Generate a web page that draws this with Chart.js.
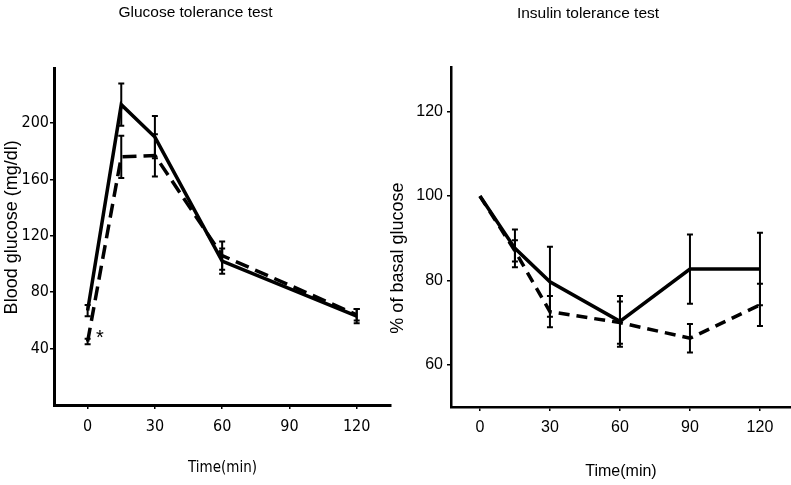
<!DOCTYPE html>
<html lang="en">
<head>
<meta charset="UTF-8">
<title>Glucose and insulin tolerance tests</title>
<script src="https://cdn.jsdelivr.net/npm/chart.js"></script>
<style>
    body { margin: 0; background: #fff; }
    #wrap { position: relative; width: 791px; height: 485px; }
    canvas { position: absolute; top: 0; }
    #gtt { left: 0; }
    #itt { left: 385px; }
</style>
</head>
<body>
<div id="wrap">
    <canvas id="gtt" width="395" height="485"></canvas>
    <canvas id="itt" width="406" height="485"></canvas>
</div>
<script>
// Glucose tolerance test (blood glucose, mg/dl)
const gttTime = [0, 15, 30, 60, 120];
const gttSolid = [67, 213, 190, 102, 63];
const gttSolidErr = [4, 15, 15, 9, 5];
const gttDashed = [45, 176, 177, 106, 64];
const gttDashedErr = [2, 15, 15, 10, 4];
const gttYTicks = [40, 80, 120, 160, 200];

// Insulin tolerance test (% of basal glucose)
const ittTime = [0, 15, 30, 60, 90, 120];
const ittSolid = [100, 87.6, 79.7, 70.3, 82.7, 82.7];
const ittSolidErr = [0, 4.5, 8.3, 6, 8.2, 8.6];
const ittDashed = [100, 87, 72.6, 70, 66.3, 74.2];
const ittDashedErr = [0, 2.5, 3.7, 5, 3.4, 5];
const ittYTicks = [60, 80, 100, 120];

const timeTicks = [0, 30, 60, 90, 120];

const NARROW = '"DejaVu Sans Condensed", "Liberation Sans Narrow", sans-serif';
const SANS = '"Liberation Sans", Arial, sans-serif';

function points(xs, ys) {
    return xs.map((x, i) => ({ x: x, y: ys[i] }));
}

// draws the error bars of every dataset through the chart scales
const errorBars = {
    id: 'errorBars',
    afterDatasetsDraw(chart) {
        const { ctx, scales: { x, y } } = chart;
        ctx.save();
        ctx.strokeStyle = '#000';
        ctx.lineWidth = 2;
        chart.data.datasets.forEach(ds => {
            ds.data.forEach((p, i) => {
                const e = ds.errors[i];
                if (!e) return;
                const px = x.getPixelForValue(p.x);
                const top = y.getPixelForValue(p.y + e);
                const bot = y.getPixelForValue(p.y - e);
                ctx.beginPath();
                ctx.moveTo(px, top); ctx.lineTo(px, bot);
                ctx.moveTo(px - 3, top); ctx.lineTo(px + 3, top);
                ctx.moveTo(px - 3, bot); ctx.lineTo(px + 3, bot);
                ctx.stroke();
            });
        });
        ctx.restore();
    }
};

// significance mark next to the dashed 0 min point
const starMark = {
    id: 'starMark',
    afterDatasetsDraw(chart) {
        const { ctx, scales: { x, y } } = chart;
        ctx.save();
        ctx.fillStyle = '#000';
        ctx.font = '20px ' + SANS;
        ctx.textAlign = 'center';
        ctx.textBaseline = 'middle';
        ctx.fillText('*', x.getPixelForValue(5.5), y.getPixelForValue(47));
        ctx.restore();
    }
};

// vertical axis title, centred on a given value of the y scale
const yTitle = {
    id: 'yTitle',
    afterDraw(chart, args, opts) {
        const { ctx, scales: { y } } = chart;
        ctx.save();
        ctx.translate(opts.x, y.getPixelForValue(opts.at));
        ctx.rotate(-Math.PI / 2);
        ctx.fillStyle = '#000';
        ctx.font = '18px ' + SANS;
        ctx.textAlign = 'center';
        ctx.textBaseline = 'middle';
        ctx.fillText(opts.text, 0, 0);
        ctx.restore();
    }
};

function makeChart(id, c) {
    return new Chart(document.getElementById(id), {
        type: 'line',
        data: {
            datasets: [{
                data: points(c.time, c.solid),
                errors: c.solidErr,
                borderColor: '#000',
                borderWidth: c.lineWidth,
                pointRadius: 0,
                tension: 0
            }, {
                data: points(c.time, c.dashed),
                errors: c.dashedErr,
                borderColor: '#000',
                borderWidth: c.lineWidth,
                borderDash: c.dash,
                pointRadius: 0,
                tension: 0
            }]
        },
        plugins: c.plugins.concat([yTitle]),
        options: {
            responsive: false,
            animation: false,
            layout: { padding: { left: 0, right: c.padRight, top: 0, bottom: 0 } },
            plugins: {
                legend: { display: false },
                tooltip: { enabled: false },
                title: {
                    display: true,
                    text: c.title,
                    color: '#000',
                    font: { family: SANS, size: 15.5, weight: 'normal' },
                    padding: { top: c.titleTop, bottom: c.titleGap }
                },
                yTitle: { text: c.yTitle, x: c.yTitleX, at: c.yTitleAt }
            },
            scales: {
                x: {
                    type: 'linear',
                    min: c.xMin,
                    max: c.xMax,
                    afterBuildTicks: s => { s.ticks = timeTicks.map(v => ({ value: v })); },
                    afterFit: s => { s.height = c.xHeight; },
                    grid: { drawOnChartArea: false, drawTicks: true, tickLength: 4, color: '#000', lineWidth: 1.5 },
                    border: { color: '#000', width: c.axisWidth },
                    ticks: { color: '#000', font: c.tickFont, padding: c.xTickPad, maxRotation: 0 },
                    title: {
                        display: true,
                        text: 'Time(min)',
                        color: '#000',
                        font: c.timeFont,
                        padding: { top: 0, bottom: c.xTitlePad }
                    }
                },
                y: {
                    type: 'linear',
                    min: c.yMin,
                    max: c.yMax,
                    afterBuildTicks: s => { s.ticks = c.yTicks.map(v => ({ value: v })); },
                    afterFit: s => { s.width = c.yWidth; },
                    grid: { drawOnChartArea: false, drawTicks: true, tickLength: 4, color: '#000', lineWidth: 1.5 },
                    border: { color: '#000', width: c.axisWidth },
                    ticks: { color: '#000', font: c.tickFont, padding: c.yTickPad }
                }
            }
        }
    });
}

makeChart('gtt', {
    title: 'Glucose tolerance test',
    yTitle: 'Blood glucose (mg/dl)', yTitleX: 12, yTitleAt: 126,
    time: gttTime, solid: gttSolid, solidErr: gttSolidErr,
    dashed: gttDashed, dashedErr: gttDashedErr,
    yTicks: gttYTicks, yMin: 0, yMax: 239,
    xMin: -15, xMax: 135.3,
    lineWidth: 3.5, dash: [14, 7], axisWidth: 3,
    tickFont: { family: NARROW, size: 16 },
    timeFont: { family: NARROW, size: 15 },
    titleTop: 3, titleGap: 46.4,
    padRight: 4, yWidth: 54, xHeight: 80,
    xTickPad: 8, yTickPad: 1, xTitlePad: 7.5,
    plugins: [errorBars, starMark]
});

makeChart('itt', {
    title: 'Insulin tolerance test',
    yTitle: '% of basal glucose', yTitleX: 13, yTitleAt: 85.3,
    time: ittTime, solid: ittSolid, solidErr: ittSolidErr,
    dashed: ittDashed, dashedErr: ittDashedErr,
    yTicks: ittYTicks, yMin: 50, yMax: 130.6,
    xMin: -12.4, xMax: 133.3,
    lineWidth: 3.5, dash: [11, 7], axisWidth: 2.5,
    tickFont: { family: SANS, size: 16 },
    timeFont: { family: SANS, size: 16 },
    titleTop: 4, titleGap: 44.4,
    padRight: 0, yWidth: 66, xHeight: 78,
    xTickPad: 7, yTickPad: 4, xTitlePad: 4,
    plugins: [errorBars]
});
</script>
</body>
</html>
